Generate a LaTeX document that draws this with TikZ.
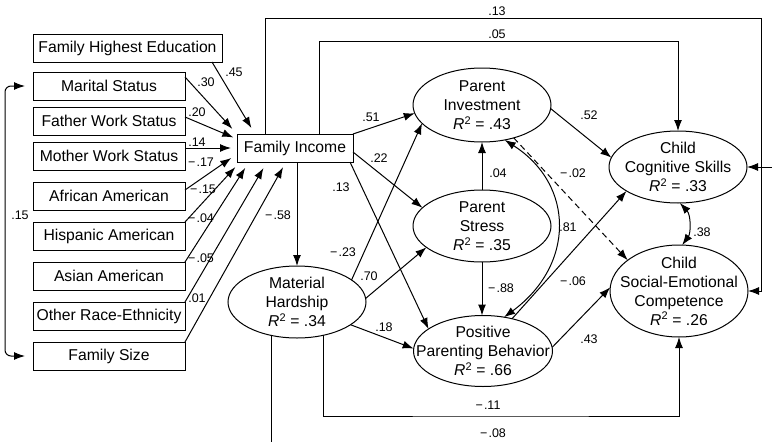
\documentclass[tikz,border=0pt]{standalone}
\usepackage{fontspec}
\setmainfont{Liberation Sans}
\usetikzlibrary{shapes.geometric,arrows.meta,calc}
\newcommand{\rsq}[1]{{\itshape R}\textsuperscript{2} = #1}
\newcommand{\mn}{−\kern1.2pt}
\begin{document}
\begin{tikzpicture}[x=1pt,y=-1pt,
  line width=1pt,
  arr/.style={-{Latex[length=11pt,width=8pt]}},
  darr/.style={{Latex[length=11pt,width=8pt]}-{Latex[length=11pt,width=8pt]}},
  varbox/.style={draw, rectangle, minimum height=28pt, minimum width=152pt, inner sep=0pt, outer sep=0pt, font=\fontsize{15.7}{18}\selectfont},
  latent/.style={draw, ellipse, minimum width=138pt, minimum height=72pt, inner sep=0pt, outer sep=0pt},
  ltext/.style={align=center, font=\fontsize{15.7}{19}\selectfont, inner sep=0pt},
  coef/.style={font=\fontsize{12.5}{14}\selectfont, inner sep=0pt},
]
\useasboundingbox (0,0) rectangle (772,442);

% observed variables
\node[varbox, minimum width=189pt] (fhe) at (127.5,48) {Family Highest Education};
\node[varbox] (ms)  at (109,86)  {Marital Status};
\node[varbox] (fws) at (109,121) {Father Work Status};
\node[varbox] (mws) at (109,156) {Mother Work Status};
\node[varbox] (aa)  at (109,196) {African American};
\node[varbox] (ha)  at (109,236) {Hispanic American};
\node[varbox] (asn) at (109,276) {Asian American};
\node[varbox] (ore) at (109,316) {Other Race-Ethnicity};
\node[varbox] (fs)  at (109,356) {Family Size};
\node[varbox, minimum width=116pt] (fi) at (295,148) {Family Income};

% latent variables
\node[latent, minimum height=74pt] (pi) at (482,105) {};
\node[latent] (ps) at (482,226) {};
\node[latent, minimum width=139pt, minimum height=71pt] (ppb) at (483,351) {};
\node[latent] (mh) at (297,302) {};
\node[latent] (ccs) at (678,167) {};
\node[latent, minimum height=92pt] (cse) at (679,291) {};

\node[ltext] (tpi) at (pi) {Parent\\Investment\\\rsq{.43}};
\node[ltext] (tps) at (ps) {Parent\\Stress\\\rsq{.35}};
\node[ltext] (tppb) at (ppb) {Positive\\Parenting Behavior\\\rsq{.66}};
\node[ltext] (tmh) at (mh) {Material\\Hardship\\\rsq{.34}};
\node[ltext] (tccs) at (ccs) {Child\\Cognitive Skills\\\rsq{.33}};
\node[ltext] (tcse) at (cse) {Child\\Social-Emotional\\Competence\\\rsq{.26}};

% predictors of family income
\draw[arr, shorten >=7pt] ([xshift=-10pt]fhe.south east) -- ([xshift=18pt]fi.north west);
\draw[arr, shorten >=7pt] ([yshift=9pt]ms.east) -- (fi.north west);
\draw[arr, shorten >=4pt] ([yshift=4pt]fws.east) -- ([yshift=9pt]fi.west);
\draw[arr, shorten >=6pt] (mws.east |- fi.west) -- (fi.west);
\draw[arr, shorten >=7pt] ([yshift=6pt]aa.east) -- ([yshift=-6pt]fi.west);
\draw[arr, shorten >=7pt] (ha.north east) -- ([xshift=3pt]fi.south west);
\draw[arr, shorten >=7pt] (asn.north east) -- ([xshift=12pt]fi.south west);
\draw[arr, shorten >=7pt] (ore.north east) -- ([xshift=30pt]fi.south west);
\draw[arr, shorten >=6pt] (fs.north east) -- ([xshift=49pt]fi.south west);

% covariance bracket
\draw[darr, rounded corners=6pt] ([xshift=-8pt]ms.west) -| ([xshift=-28pt]fs.west) -- ([xshift=-8pt]fs.west);

% structural paths
\draw[arr] (fi.south -| mh.north) -- (mh.north);
\draw[arr] (fi.north east) -- (pi.187);
\draw[arr] ([yshift=-4pt]fi.east) -- (ps.163);
\draw[arr] ([xshift=-3pt]fi.south east) -- (ppb.158);
\draw[arr] (mh.22) -- (pi.197);
\draw[arr] (mh.3) -- (ps.201);
\draw[arr] (mh.337) -- (ppb.178);
\draw[arr] (ps.north) -- (pi.south);
\draw[arr] (ps.south) -- (ps.south |- ppb.north);
\draw[arr] (pi.357) -- (ccs.172);
\draw[arr, dash pattern=on 6pt off 4pt] (pi.314) -- (cse.149);
\draw[darr] (pi.303) .. controls (575,185) and (575,265) .. (ppb.58);
\draw[arr] (ppb.48) -- (ccs.205);
\draw[arr] (ppb.3) -- (cse.177);
\draw[darr] (ccs.273) .. controls (691,215) and (691,233) .. (cse.86);

% long paths
\coordinate (t13) at (761,18);
\draw[arr] ([xshift=-30pt]fi.north) |- (t13) |- (cse.east);
\coordinate (t05) at (678,41);
\draw[arr] ([xshift=24pt]fi.north) |- (t05) -- (ccs.north);
\coordinate (r08) at (772,167);
\draw[arr] (r08) -- (ccs.east);
\coordinate (b08) at (272,442);
\draw (mh.233) -- (mh.233 |- b08);
\coordinate (b11) at (500,416);
\draw[arr] (mh.309) |- (b11) -| (cse.south);

% coefficients
\node[coef] (c1) at (234,72) {.45};
\node[coef] (c2) at (206,82) {.30};
\node[coef] (c3) at (197,112) {.20};
\node[coef] (c4) at (197,142) {.14};
\node[coef] (c5) at (201,162) {\mn.17};
\node[coef] (c6) at (203,189) {\mn.15};
\node[coef] (c7) at (201,218) {\mn.04};
\node[coef] (c8) at (201,258) {\mn.05};
\node[coef] (c9) at (197,298) {.01};
\node[coef] (c10) at (20,215) {.15};
\node[coef] (c11) at (497,11) {.13};
\node[coef] (c12) at (497,34) {.05};
\node[coef] (c13) at (371,117) {.51};
\node[coef] (c14) at (379,158) {.22};
\node[coef] (c15) at (341,187) {.13};
\node[coef] (c16) at (278,215) {\mn.58};
\node[coef] (c17) at (343,252) {\mn.23};
\node[coef] (c18) at (369,276) {.70};
\node[coef] (c19) at (384,327) {.18};
\node[coef] (c20) at (498,173) {.04};
\node[coef] (c21) at (501,288) {\mn.88};
\node[coef] (c22) at (568,227) {.81};
\node[coef] (c23) at (573,281) {\mn.06};
\node[coef] (c24) at (573,173) {\mn.02};
\node[coef] (c25) at (589,115) {.52};
\node[coef] (c26) at (589,339) {.43};
\node[coef] (c27) at (702,232) {.38};
\node[coef] (c28) at (488,405) {\mn.11};
\node[coef] (c29) at (493,433) {\mn.08};
\end{tikzpicture}
\end{document}
